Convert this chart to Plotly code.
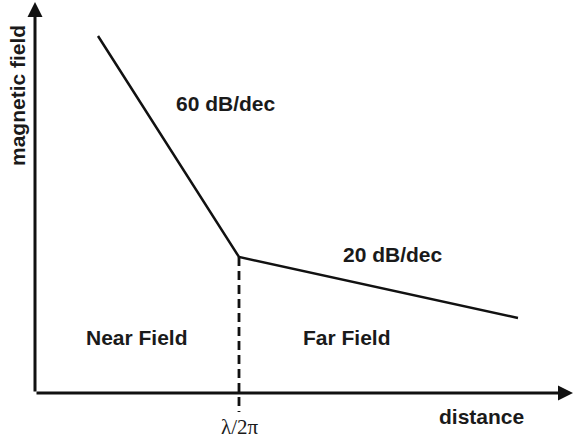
import plotly.graph_objects as go

# Conceptual field-vs-distance curve (abstract units)
distance = [63, 204, 483]
field = [357, 136, 75]
knee_distance = 204
dashed_bottom = -19
region_labels = ["Near Field", "Far Field"]
slope_labels = ["60 dB/dec", "20 dB/dec"]
x_label = "distance"
y_label = "magnetic field"
tick_label = "λ/2π"

fig = go.Figure()

fig.add_trace(go.Scatter(x=distance, y=field, mode="lines",
                         line=dict(color="#111111", width=2.5), hoverinfo="skip"))
fig.add_trace(go.Scatter(x=[knee_distance, knee_distance], y=[field[1], dashed_bottom],
                         mode="lines", line=dict(color="#111111", width=2.8, dash="9px,5px"),
                         hoverinfo="skip"))

ann = []
# axis arrows
ann.append(dict(x=538, y=0, ax=0, ay=0, xref="x", yref="y", axref="x", ayref="y",
                showarrow=True, arrowhead=2, arrowsize=1, arrowwidth=3, arrowcolor="#111111",
                text=""))
ann.append(dict(x=0, y=391, ax=0, ay=0, xref="x", yref="y", axref="x", ayref="y",
                showarrow=True, arrowhead=2, arrowsize=1, arrowwidth=3, arrowcolor="#111111",
                text=""))

bold = dict(family="Liberation Sans, Arial, sans-serif", size=21, color="#1a1a1a")
def lab(x, y, t, **kw):
    d = dict(x=x, y=y, xref="x", yref="y", text="<b>%s</b>" % t, showarrow=False,
             font=bold)
    d.update(kw)
    ann.append(d)

lab(190.5, 290, slope_labels[0])
lab(357.5, 139, slope_labels[1])
lab(101.5, 55.5, region_labels[0])
lab(312, 55.5, region_labels[1])
lab(446.5, -23, x_label)
lab(-17.5, 297.5, y_label, textangle=-90)
ann.append(dict(x=knee_distance + 1, y=-34, xref="x", yref="y", text=tick_label,
                showarrow=False,
                font=dict(family="Liberation Serif, Times New Roman, serif", size=21,
                          color="#1a1a1a")))

fig.update_layout(
    width=575, height=442,
    margin=dict(l=0, r=0, t=0, b=0),
    paper_bgcolor="white", plot_bgcolor="white",
    showlegend=False,
    xaxis=dict(range=[-35, 540], visible=False, fixedrange=True),
    yaxis=dict(range=[-49, 393], visible=False, fixedrange=True),
    annotations=ann,
)

fig.write_html("out.html", config={"displayModeBar": False},
               post_script="document.body.style.margin='0';")
